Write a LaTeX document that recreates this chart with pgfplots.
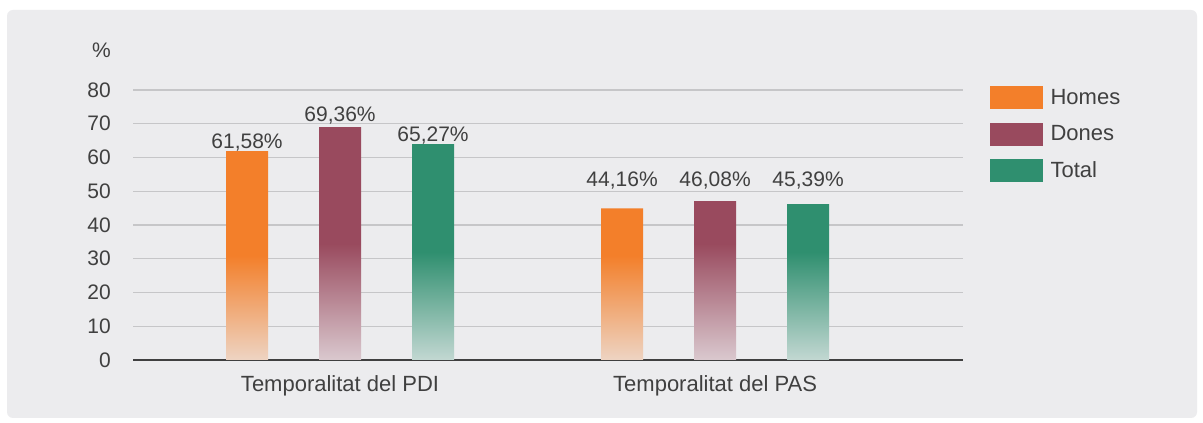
\documentclass[border=0pt]{standalone}
\usepackage{pgfplots}
\pgfplotsset{compat=1.18}
\usepackage{fontspec}
\setmainfont{Liberation Sans}
\definecolor{bgC}{HTML}{ECECEE}
\definecolor{orC}{HTML}{F37F2A}
\definecolor{doC}{HTML}{994A5E}
\definecolor{toC}{HTML}{2F8F6F}
\definecolor{txtC}{HTML}{404040}
\definecolor{gridC}{HTML}{C6C6C8}
\colorlet{orB}{orC!22!bgC}
\colorlet{doB}{doC!22!bgC}
\colorlet{toB}{toC!22!bgC}
\pgfdeclareverticalshading{fadeor}{100bp}{color(0bp)=(orB); color(25bp)=(orB); color(50bp)=(orC); color(100bp)=(orC)}
\pgfdeclareverticalshading{fadedo}{100bp}{color(0bp)=(doB); color(25bp)=(doB); color(50bp)=(doC); color(100bp)=(doC)}
\pgfdeclareverticalshading{fadeto}{100bp}{color(0bp)=(toB); color(25bp)=(toB); color(50bp)=(toC); color(100bp)=(toC)}
\newcommand\ff{\fontsize{21pt}{25pt}\selectfont}
\newcommand\fl{\fontsize{22pt}{26pt}\selectfont}
\begin{document}
\begin{tikzpicture}[x=1pt,y=1pt]
\fill[white] (0,0) rectangle (1203,423);
\fill[bgC, rounded corners=6pt] (7,5) rectangle (1197,413);
\node[anchor=east, inner sep=0pt, font=\ff, text=txtC] at (111,373) {\%};
\begin{axis}[
  at={(133pt,63pt)}, anchor=south west,
  scale only axis, width=830pt, height=270pt,
  xmin=-0.552, xmax=1.661, ymin=0, ymax=80,
  ytick={0,10,...,80},
  xtick={0,1},
  xticklabels={Temporalitat del PDI, Temporalitat del PAS},
  axis x line*=bottom, axis y line*=left,
  x axis line style={-, draw=txtC, line width=1.5pt},
  y axis line style={draw=none},
  major tick length=0pt,
  ymajorgrids, grid style={gridC, line width=1.2pt},
  /pgf/number format/assume math mode=true,
  tick label style={font=\ff, text=txtC},
  yticklabel style={anchor=east, inner sep=0pt, xshift=-22pt},
  xticklabel style={anchor=base, inner sep=0pt, yshift=-32pt, font=\fl},
  legend style={at={(1.0325,1.0148)}, anchor=north west, draw=none, fill=none,
    inner sep=0pt, row sep=14pt, font=\fl, text=txtC,
    nodes={inner sep=0pt},
    /tikz/every odd column/.append style={column sep=8pt}},
  legend cell align=left,
]
\addlegendimage{legend image code/.code={\fill[orC] (0pt,-11pt) rectangle (52pt,11pt);}}
\addlegendentry{Homes}
\addlegendimage{legend image code/.code={\fill[doC] (0pt,-11pt) rectangle (52pt,11pt);}}
\addlegendentry{Dones}
\addlegendimage{legend image code/.code={\fill[toC] (0pt,-11pt) rectangle (52pt,11pt);}}
\addlegendentry{Total}
\addplot[ybar, bar width=0.112, bar shift=0, draw=none, shade, shading=fadeor, forget plot]
  coordinates {(-0.248,61.9) (0.752,44.9)};
\addplot[ybar, bar width=0.112, bar shift=0, draw=none, shade, shading=fadedo, forget plot]
  coordinates {(0,69.0) (1,47.1)};
\addplot[ybar, bar width=0.112, bar shift=0, draw=none, shade, shading=fadeto, forget plot]
  coordinates {(0.248,64.0) (1.248,46.2)};
\addplot[draw=none, mark=none, forget plot, nodes near coords, point meta=explicit symbolic,
  nodes near coords style={anchor=base, inner sep=0pt, font=\ff, text=txtC}]
  coordinates {(-0.248,62.8) [61,58\%] (0,70.8) [69,36\%] (0.248,64.6) [65,27\%]
               (0.752,51.3) [44,16\%] (1,51.3) [46,08\%] (1.248,51.3) [45,39\%]};
\end{axis}
\end{tikzpicture}
\end{document}
